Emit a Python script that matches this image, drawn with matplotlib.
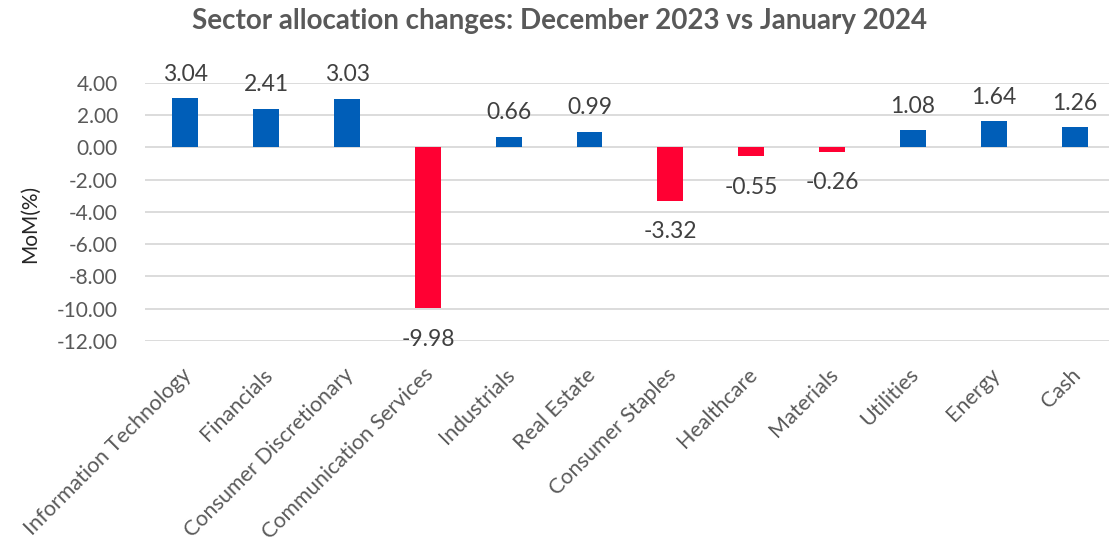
import matplotlib.pyplot as plt
import matplotlib.transforms as mtransforms
import numpy as np

sectors = ['Information Technology', 'Financials', 'Consumer Discretionary',
           'Communication Services', 'Industrials', 'Real Estate',
           'Consumer Staples', 'Healthcare', 'Materials', 'Utilities',
           'Energy', 'Cash']
mom = [3.04, 2.41, 3.03, -9.98, 0.66, 0.99, -3.32, -0.55, -0.26, 1.08, 1.64, 1.26]
yticks = [4, 2, 0, -2, -4, -6, -8, -10, -12]

plt.rcParams['font.family'] = ['Lato', 'DejaVu Sans']
grey = '#595959'

fig = plt.figure(figsize=(11.09, 5.47), dpi=100)
# plot area runs a little past the right edge, as in the original
ax = fig.add_axes([0.1307, 0.3766, 0.8747, 0.4717])

x = np.arange(len(sectors))
colors = ['#005EB8' if v >= 0 else '#FF0033' for v in mom]
ax.bar(x, mom, width=0.32, color=colors, zorder=3)

# data labels outside the bar end
for xi, v in zip(x, mom):
    dy = 17.3 if v >= 0 else -22.3
    ax.annotate(f'{v:.2f}', (xi, v), xytext=(0, dy), textcoords='offset points',
                ha='center', va='center', fontsize=16.5, color='#404040')

ax.set_ylim(-12, 4)
ax.set_xlim(-0.5, len(sectors) - 0.5)
ax.set_yticks(yticks)
ax.set_yticklabels([f'{t:.2f}' for t in yticks])
ax.set_xticks(x)
ax.set_xticklabels(sectors, rotation=45, ha='right', va='center',
                   rotation_mode='anchor')
ax.tick_params(axis='both', length=0, labelcolor=grey)
ax.tick_params(axis='y', labelsize=15, pad=19.5)
ax.tick_params(axis='x', labelsize=15.5, pad=22)
shift = mtransforms.ScaledTranslation(3 / 100, 0, fig.dpi_scale_trans)
for lbl in ax.get_xticklabels():
    lbl.set_transform(lbl.get_transform() + shift)

ax.grid(axis='y', color='#D9D9D9', linewidth=1.3, zorder=0)
for s in ax.spines.values():
    s.set_visible(False)

ax.set_ylabel('MoM(%)', fontsize=15, color='#262626', va='center')
ax.yaxis.set_label_coords(-0.119, 0.455)
fig.suptitle('Sector allocation changes: December 2023 vs January 2024',
             fontsize=20, fontweight='bold', color=grey, x=0.505, y=0.985)

fig.savefig('out.png', dpi=100)
